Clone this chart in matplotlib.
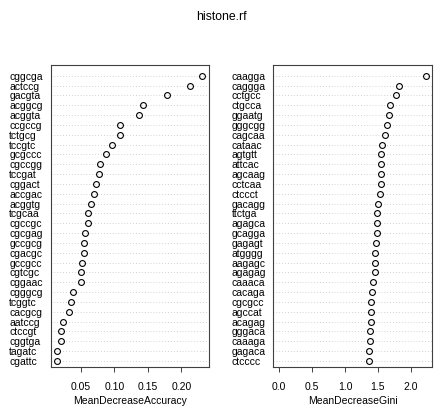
import numpy as np
import matplotlib
matplotlib.use("Agg")
import matplotlib.pyplot as plt

plt.rcParams['font.family'] = ['Liberation Sans', 'DejaVu Sans']

# MeanDecreaseAccuracy, top to bottom
acc_names = ['cggcga', 'actccg', 'gacgta', 'acggcg', 'acggta', 'ccgccg', 'tctgcg',
             'tccgtc', 'gcgccc', 'cgccgg', 'tccgat', 'cggact', 'accgac', 'acggtg',
             'tcgcaa', 'cgccgc', 'cgcgag', 'gccgcg', 'cgacgc', 'gccgcc', 'cgtcgc',
             'cggaac', 'cgggcg', 'tcggtc', 'cacgcg', 'aatccg', 'ctccgt', 'cggtga',
             'tagatc', 'cgattc']
acc_vals = [0.231, 0.213, 0.178, 0.142, 0.137, 0.109, 0.108, 0.097, 0.087, 0.079,
            0.077, 0.073, 0.070, 0.066, 0.061, 0.061, 0.057, 0.055, 0.055, 0.0515,
            0.050, 0.050, 0.0386, 0.035, 0.032, 0.024, 0.021, 0.021, 0.014, 0.014]

# MeanDecreaseGini, top to bottom
gini_names = ['caagga', 'caggga', 'cctgcc', 'ctgcca', 'ggaatg', 'gggcgg', 'cagcaa',
              'cataac', 'agtgtt', 'attcac', 'agcaag', 'cctcaa', 'ctccct', 'gacagg',
              'ttctga', 'agagca', 'gcagga', 'gagagt', 'atgggg', 'aagagc', 'agagag',
              'caaaca', 'cacaga', 'cgcgcc', 'agccat', 'acagag', 'gggaca', 'caaaga',
              'gagaca', 'ctcccc']
gini_vals = [2.228, 1.817, 1.776, 1.690, 1.674, 1.639, 1.609, 1.568, 1.553, 1.548,
             1.543, 1.543, 1.537, 1.507, 1.492, 1.492, 1.482, 1.467, 1.461, 1.452,
             1.452, 1.422, 1.411, 1.396, 1.391, 1.391, 1.385, 1.376, 1.370, 1.360]

acc_ticks = [0.05, 0.10, 0.15, 0.20]
gini_ticks = [0.0, 0.5, 1.0, 1.5, 2.0]

W, H = 443, 415
fig = plt.figure(figsize=(W / 100, H / 100), dpi=100)

fs = 7.5


def dot_panel(rect, names, vals, xlim, ticks, fmt, xlabel):
    ax = fig.add_axes(rect)
    n = len(names)
    y = np.arange(n, 0, -1)
    for yy in y:
        ax.axhline(yy, color='#c4c4c4', lw=0.6, ls=(0, (1, 2.5)), zorder=1)
    ax.plot(vals, y, 'o', ms=4.2, mfc='none', mec='black', mew=0.8, zorder=3)
    ax.set_xlim(xlim)
    ax.set_ylim(0.35, n + 1.1)
    ax.set_xticks(ticks)
    ax.set_xticklabels([fmt % t for t in ticks], fontsize=fs)
    ax.set_yticks(y)
    ax.set_yticklabels(names, fontsize=fs)
    for t in ax.get_yticklabels():
        t.set_ha('left')
    ax.tick_params(axis='y', length=0, pad=30)
    ax.tick_params(axis='x', length=3.5, width=0.7, pad=7, color='#404040')
    ax.set_xlabel(xlabel, fontsize=fs, labelpad=3)
    for s in ax.spines.values():
        s.set_color('#404040')
        s.set_linewidth(0.8)
    return ax


bottom = 1 - 367.3 / H
height = (367.3 - 65) / H
dot_panel([51 / W, bottom, 158.3 / W, height], acc_names, acc_vals,
          (0.0058, 0.2414), acc_ticks, '%.2f', 'MeanDecreaseAccuracy')
dot_panel([273.3 / W, bottom, 159 / W, height], gini_names, gini_vals,
          (-0.091, 2.329), gini_ticks, '%.1f', 'MeanDecreaseGini')

fig.text(221 / W, 1 - 17 / H, 'histone.rf', ha='center', va='center', fontsize=8.8)

fig.savefig('out.png', dpi=100)
